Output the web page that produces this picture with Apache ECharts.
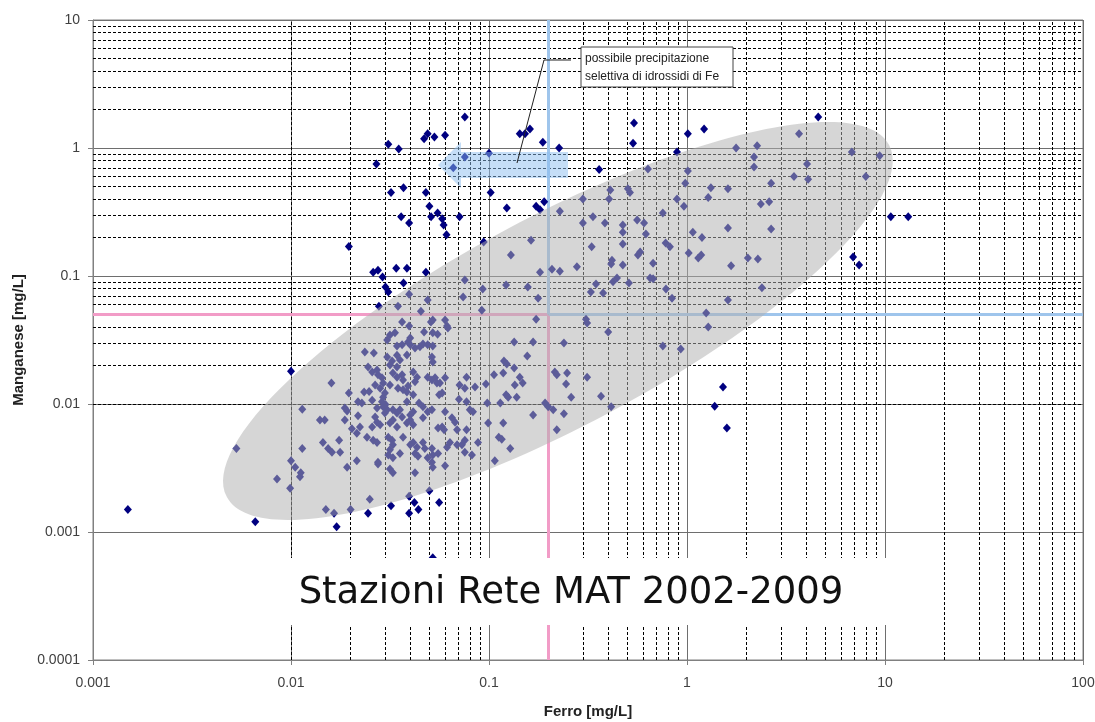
<!DOCTYPE html>
<html>
<head>
<meta charset="utf-8">
<title>Ferro - Manganese</title>
<script src="https://cdn.jsdelivr.net/npm/echarts@6/dist/echarts.min.js"></script>
<style>
  html, body { margin: 0; padding: 0; background: #fff; }
  #chart { width: 1095px; height: 722px; }
</style>
</head>
<body>
<div id="chart"></div>
<script>
// [Ferro mg/L, Manganese mg/L]
const puntiSopra = [
  [0.0196, 0.17], [0.026, 0.107], [0.0275, 0.111], [0.029, 0.098], [0.034, 0.115], [0.0385, 0.115],
  [0.030, 0.082], [0.031, 0.075], [0.037, 0.088],
  [0.027, 0.75], [0.031, 1.07], [0.035, 0.98], [0.047, 1.18], [0.049, 1.29], [0.053, 1.22], [0.060, 1.26],
  [0.0755, 1.75], [0.0755, 0.85], [0.066, 0.70], [0.1, 0.91], [0.143, 1.29], [0.152, 1.29], [0.161, 1.41],
  [0.187, 1.11], [0.226, 1.0], [0.102, 0.45], [0.032, 0.45], [0.037, 0.49], [0.048, 0.45], [0.050, 0.35],
  [0.051, 0.29], [0.055, 0.31], [0.058, 0.28], [0.059, 0.25], [0.061, 0.21], [0.071, 0.29], [0.036, 0.29],
  [0.0395, 0.26], [0.123, 0.34], [0.173, 0.35], [0.181, 0.33], [0.19, 0.38], [0.228, 0.32], [0.163, 0.19],
  [0.094, 0.184], [0.36, 0.68], [0.54, 1.57], [0.534, 1.09], [1.01, 1.29], [1.22, 1.41], [4.6, 1.75]
]
const puntiFuori = [
  [10.7, 0.29], [13.1, 0.29], [6.9, 0.141], [7.4, 0.122], [1.52, 0.0136], [1.38, 0.0096], [1.59, 0.0065]
]
const puntiBassi = [
  [0.0015, 0.0015], [0.0066, 0.0012], [0.017, 0.0011], [0.0245, 0.0014], [0.052, 0.00063], [0.01, 0.018],
  [0.0053, 0.0045], [0.0114, 0.0091], [0.0114, 0.0045], [0.01, 0.0036], [0.0105, 0.0032], [0.0112, 0.0029],
  [0.0111, 0.0027], [0.0085, 0.0026], [0.0099, 0.0022], [0.015, 0.0015], [0.0165, 0.0014], [0.020, 0.0015],
  [0.025, 0.0018], [0.032, 0.0016], [0.0395, 0.0019], [0.0395, 0.0014], [0.042, 0.0017], [0.044, 0.0015],
  [0.050, 0.0021], [0.056, 0.0017]
]
const nucleo = [
  [0.016, 0.0146], [0.0196, 0.0122], [0.0236, 0.0255], [0.0262, 0.025], [0.0245, 0.0195], [0.0257, 0.0178],
  [0.0228, 0.0102], [0.0234, 0.0124], [0.0248, 0.0125], [0.014, 0.0075], [0.0148, 0.0075], [0.0187, 0.0093],
  [0.0192, 0.0088], [0.0187, 0.0075], [0.0218, 0.0081], [0.0203, 0.0064], [0.0215, 0.0059], [0.0242, 0.0055],
  [0.0145, 0.0050], [0.0154, 0.0045], [0.0161, 0.0042], [0.0175, 0.0052], [0.0177, 0.0042], [0.0192, 0.0032],
  [0.0215, 0.0036], [0.0223, 0.0066], [0.026, 0.0052], [0.0272, 0.0050], [0.0275, 0.0034], [0.0218, 0.0104],
  [0.0257, 0.0107], [0.0288, 0.0104], [0.0272, 0.0093], [0.0306, 0.0090], [0.0275, 0.0169], [0.0288, 0.016],
  [0.0266, 0.0141], [0.0282, 0.0133], [0.0292, 0.0146], [0.0298, 0.0122], [0.0306, 0.0233],
  [0.0316, 0.0346], [0.0335, 0.036], [0.047, 0.0365], [0.052, 0.036], [0.055, 0.035], [0.0343, 0.0284],
  [0.0364, 0.029], [0.039, 0.0305], [0.040, 0.029], [0.0423, 0.0274], [0.0448, 0.028], [0.049, 0.029],
  [0.052, 0.0284], [0.0343, 0.024], [0.0355, 0.0221], [0.0385, 0.0241], [0.0515, 0.0233], [0.052, 0.0213],
  [0.0316, 0.0202], [0.0343, 0.0195], [0.0272, 0.0184], [0.0327, 0.0175], [0.0343, 0.0162], [0.0364, 0.0169],
  [0.0368, 0.0154], [0.0414, 0.0178], [0.0433, 0.0162], [0.0423, 0.0149], [0.049, 0.0162], [0.0515, 0.0154],
  [0.0534, 0.016], [0.0546, 0.0146], [0.0565, 0.0146], [0.060, 0.016], [0.077, 0.0162], [0.071, 0.0141],
  [0.0755, 0.0133], [0.0316, 0.0141], [0.0347, 0.0133], [0.0368, 0.0129], [0.0385, 0.0124], [0.058, 0.0122],
  [0.0292, 0.0095], [0.030, 0.0099], [0.0298, 0.0085], [0.0327, 0.009], [0.0343, 0.0085], [0.0355, 0.009],
  [0.0364, 0.0079], [0.040, 0.0082], [0.0414, 0.0087], [0.049, 0.0087], [0.0515, 0.009], [0.060, 0.0087],
  [0.077, 0.0104], [0.080, 0.009], [0.083, 0.0087], [0.0266, 0.0079], [0.0272, 0.0072], [0.0282, 0.0069],
  [0.0316, 0.0071], [0.0327, 0.0075], [0.0343, 0.0066], [0.0385, 0.0071], [0.040, 0.0075], [0.0414, 0.0069],
  [0.0464, 0.0078], [0.0553, 0.0065], [0.058, 0.0066], [0.0593, 0.0063], [0.065, 0.0078], [0.0674, 0.0072],
  [0.069, 0.0063], [0.077, 0.0063], [0.031, 0.0055], [0.0324, 0.0052], [0.0327, 0.0048], [0.0316, 0.0044],
  [0.0368, 0.0055], [0.040, 0.0048], [0.0414, 0.0050], [0.0433, 0.0046], [0.0464, 0.0050], [0.0474, 0.0045],
  [0.0515, 0.0045], [0.052, 0.0040], [0.0614, 0.0046], [0.0635, 0.0050], [0.069, 0.0048], [0.073, 0.0048],
  [0.0755, 0.0052], [0.088, 0.005], [0.031, 0.0040], [0.0327, 0.0038], [0.0423, 0.0041], [0.0438, 0.0039],
  [0.049, 0.0038], [0.0515, 0.0035], [0.052, 0.0032], [0.0553, 0.0041], [0.0275, 0.0035], [0.0316, 0.0031],
  [0.0327, 0.0029], [0.0423, 0.0029], [0.060, 0.0033], [0.0755, 0.0042], [0.082, 0.0040], [0.107, 0.0036],
  [0.048, 0.107], [0.0395, 0.072], [0.0347, 0.058], [0.049, 0.065], [0.0278, 0.058], [0.0453, 0.053],
  [0.0755, 0.093], [0.093, 0.079], [0.074, 0.0685], [0.092, 0.054], [0.0364, 0.0437], [0.0395, 0.0407],
  [0.0306, 0.0316], [0.0509, 0.0437], [0.052, 0.0453], [0.060, 0.0453], [0.0614, 0.0407], [0.062, 0.0392],
  [0.040, 0.0328], [0.0464, 0.0294], [0.0705, 0.0109], [0.056, 0.0118], [0.0464, 0.0095], [0.0443, 0.0102],
  [0.0414, 0.0118], [0.0385, 0.0104], [0.0257, 0.0066], [0.0355, 0.0041], [0.0292, 0.0113], [0.039, 0.0138],
  [0.0324, 0.0217]
]
const nucleoDestro = [
  [0.0965, 0.0143], [0.085, 0.0136], [0.106, 0.0169], [0.118, 0.0175], [0.134, 0.0191], [0.123, 0.0205],
  [0.119, 0.0217], [0.156, 0.0237], [0.134, 0.0305], [0.167, 0.0305], [0.239, 0.030], [0.173, 0.046],
  [0.143, 0.0162], [0.148, 0.0146], [0.135, 0.0141], [0.122, 0.0118], [0.125, 0.0113], [0.138, 0.0113],
  [0.114, 0.0102], [0.098, 0.0102], [0.099, 0.0071], [0.118, 0.0071], [0.112, 0.0055], [0.116, 0.0053],
  [0.128, 0.0045], [0.215, 0.0178], [0.22, 0.0169], [0.248, 0.0175], [0.245, 0.0143], [0.313, 0.0162],
  [0.26, 0.0113], [0.368, 0.0115], [0.414, 0.0095], [0.192, 0.0102], [0.199, 0.0095], [0.211, 0.009],
  [0.239, 0.0084], [0.167, 0.0082], [0.22, 0.0063],
  [0.122, 0.085], [0.129, 0.146], [0.157, 0.082], [0.177, 0.067], [0.181, 0.107], [0.208, 0.113],
  [0.228, 0.109], [0.278, 0.118], [0.33, 0.169], [0.474, 0.178], [0.58, 0.154], [0.565, 0.146],
  [0.78, 0.181], [0.82, 0.169], [1.02, 0.151], [1.14, 0.138], [1.18, 0.146], [0.418, 0.133], [0.414, 0.124],
  [0.474, 0.122], [0.674, 0.126], [1.67, 0.12], [0.423, 0.090], [0.443, 0.0965], [0.347, 0.0866],
  [0.327, 0.075], [0.377, 0.0737], [0.509, 0.088], [0.651, 0.0965], [0.674, 0.095], [0.783, 0.079],
  [0.84, 0.067], [1.61, 0.065], [1.25, 0.0514], [1.28, 0.040], [0.309, 0.046], [0.313, 0.043],
  [0.40, 0.0365], [0.755, 0.0284], [0.93, 0.0269],
  [0.89, 0.93], [1.77, 1.0], [1.01, 0.66], [0.98, 0.53], [0.635, 0.685], [0.41, 0.47], [0.503, 0.48],
  [0.515, 0.45], [0.404, 0.40], [0.298, 0.40], [0.89, 0.40], [1.32, 0.49], [1.28, 0.41], [1.61, 0.48],
  [0.755, 0.31], [0.965, 0.35], [0.56, 0.274], [0.607, 0.26], [0.335, 0.29], [0.298, 0.26], [0.385, 0.26],
  [0.474, 0.25], [0.474, 0.22], [0.62, 0.213], [1.07, 0.22], [1.19, 0.20], [1.61, 0.237],
  [3.68, 1.29], [2.26, 1.04], [2.18, 0.85], [2.18, 0.71], [4.04, 0.75], [3.47, 0.60], [4.09, 0.57],
  [2.66, 0.53], [6.8, 0.93], [9.4, 0.87], [8.0, 0.60], [2.36, 0.365], [2.6, 0.38], [2.66, 0.233],
  [2.03, 0.138], [2.28, 0.136], [2.39, 0.081]
]

const feTicks = ['0.001', '0.01', '0.1', '1', '10', '100']
const mnTicks = ['0.0001', '0.001', '0.01', '0.1', '1', '10']
const decadiFe = [0.001, 0.01, 0.1, 1, 10]
const decadiMn = [0.0001, 0.001, 0.01, 0.1, 1]
const multipli = [2, 3, 4, 5, 6, 7, 8, 9]
const sogliaFe = 0.2
const sogliaMn = 0.05

const chart = echarts.init(document.getElementById('chart'))

// griglia secondaria tratteggiata (2..9 in ogni decade)
const lineeMinori = []
decadiFe.forEach(d => multipli.forEach(m => lineeMinori.push({ xAxis: +(d * m).toPrecision(2) })))
decadiMn.forEach(d => multipli.forEach(m => lineeMinori.push({ yAxis: +(d * m).toPrecision(2) })))

const rosa = '#f29cc7'
const azzurro = '#9fc5ec'

const option = {
  animation: false,
  backgroundColor: '#fff',
  grid: {
    left: 93,
    right: 12,
    top: 20,
    bottom: 62,
    show: true,
    borderColor: '#808080',
    borderWidth: 1,
    outerBoundsMode: 'none'
  },
  xAxis: {
    type: 'log',
    logBase: 10,
    min: 0.001,
    max: 100,
    splitNumber: 5,
    name: 'Ferro [mg/L]',
    nameLocation: 'middle',
    nameGap: 44,
    nameTextStyle: { fontFamily: 'Liberation Sans', fontSize: 15, fontWeight: 'bold', color: '#222' },
    axisLine: { show: true, lineStyle: { color: '#808080' } },
    axisTick: { show: true, length: 5, lineStyle: { color: '#808080' } },
    axisLabel: {
      margin: 16,
      fontFamily: 'Liberation Sans',
      fontSize: 14,
      color: '#404040',
      formatter: v => feTicks[Math.round(Math.log10(v) + 3)]
    },
    splitLine: { show: true, lineStyle: { color: '#6e6e6e', width: 1 } }
  },
  yAxis: {
    type: 'log',
    logBase: 10,
    min: 0.0001,
    max: 10,
    splitNumber: 5,
    name: 'Manganese [mg/L]',
    nameLocation: 'middle',
    nameGap: 62,
    nameTextStyle: { fontFamily: 'Liberation Sans', fontSize: 15, fontWeight: 'bold', color: '#222' },
    axisLine: { show: true, lineStyle: { color: '#808080' } },
    axisTick: { show: true, length: 5, lineStyle: { color: '#808080' } },
    axisLabel: {
      margin: 13,
      fontFamily: 'Liberation Sans',
      fontSize: 14,
      color: '#404040',
      formatter: v => mnTicks[Math.round(Math.log10(v) + 4)]
    },
    splitLine: { show: true, lineStyle: { color: '#6e6e6e', width: 1 } }
  },
  series: [
    {
      name: 'griglia',
      type: 'line',
      data: [],
      z: 1,
      silent: true,
      markLine: {
        silent: true,
        symbol: ['none', 'none'],
        label: { show: false },
        z: 1,
        lineStyle: { color: '#000', width: 1, type: [3, 2] },
        emphasis: { disabled: true },
        data: lineeMinori
      }
    },
    {
      name: 'soglie',
      type: 'line',
      data: [],
      z: 2,
      silent: true,
      markLine: {
        silent: true,
        symbol: ['none', 'none'],
        label: { show: false },
        z: 2,
        emphasis: { disabled: true },
        data: [
          [{ coord: [0.001, sogliaMn], lineStyle: { color: rosa, width: 3, type: 'solid' } }, { coord: [sogliaFe, sogliaMn] }],
          [{ coord: [sogliaFe, 0.0001], lineStyle: { color: rosa, width: 3, type: 'solid' } }, { coord: [sogliaFe, sogliaMn] }],
          [{ coord: [sogliaFe, sogliaMn], lineStyle: { color: azzurro, width: 3, type: 'solid' } }, { coord: [100, sogliaMn] }],
          [{ coord: [sogliaFe, sogliaMn], lineStyle: { color: azzurro, width: 3, type: 'solid' } }, { coord: [sogliaFe, 10] }]
        ]
      }
    },
    {
      name: 'Stazioni',
      type: 'scatter',
      z: 5,
      symbol: 'diamond',
      symbolSize: [8, 9],
      itemStyle: { color: '#000080', opacity: 1 },
      data: [].concat(puntiSopra, puntiFuori, puntiBassi, nucleo, nucleoDestro)
    }
  ],
  graphic: [
    // ellisse grigia semitrasparente
    {
      type: 'ellipse',
      x: 558,
      y: 321,
      rotation: 28 * Math.PI / 180,
      shape: { cx: 0, cy: 0, rx: 375, ry: 105 },
      style: { fill: 'rgba(176,176,176,0.52)' },
      silent: true,
      z: 20
    },
    // freccia azzurra
    {
      type: 'polygon',
      shape: { points: [[438, 165], [461, 142], [461, 152], [568, 152], [568, 178], [461, 178], [461, 188]] },
      style: { fill: 'rgba(140,190,240,0.5)' },
      silent: true,
      z: 21
    },
    {
      type: 'polyline',
      shape: { points: [[571, 60], [544, 60], [517, 163]] },
      style: { stroke: '#222', lineWidth: 1, fill: null },
      silent: true,
      z: 22
    },
    {
      type: 'rect',
      shape: { x: 581, y: 47, width: 152, height: 40 },
      style: { fill: '#fff', stroke: '#444', lineWidth: 1 },
      silent: true,
      z: 22
    },
    {
      type: 'text',
      x: 585,
      y: 50,
      style: {
        text: 'possibile precipitazione\nselettiva di idrossidi di Fe',
        fontFamily: 'Liberation Sans',
        fontSize: 12,
        lineHeight: 18,
        fill: '#222'
      },
      silent: true,
      z: 23
    },
    // riquadro del titolo
    {
      type: 'rect',
      shape: { x: 243, y: 558, width: 655, height: 67 },
      style: { fill: '#fff' },
      silent: true,
      z: 22
    },
    {
      type: 'text',
      x: 571,
      y: 593,
      style: {
        text: 'Stazioni Rete MAT 2002-2009',
        fontFamily: 'DejaVu Sans',
        fontSize: 37,
        fill: '#111',
        align: 'center',
        verticalAlign: 'middle'
      },
      silent: true,
      z: 23
    }
  ]
}

chart.setOption(option)
</script>
</body>
</html>
